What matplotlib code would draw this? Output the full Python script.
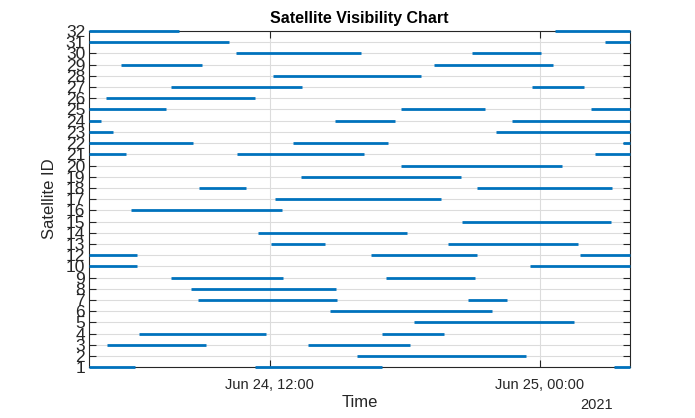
import numpy as np
import pandas as pd
import matplotlib
matplotlib.use('Agg')
import matplotlib.pyplot as plt
import matplotlib.dates as mdates

# satellites shown on the y axis (no 11 in the data), bottom to top
sat_ids = [1, 2, 3, 4, 5, 6, 7, 8, 9, 10, 12, 13, 14, 15, 16, 17, 18, 19, 20,
           21, 22, 23, 24, 25, 26, 27, 28, 29, 30, 31, 32]

# visibility passes: satellite, start/end in hours after 2021-06-24 00:00
pass_sat = [32, 32, 31, 31, 30, 30, 29, 29, 28, 27, 27, 26, 25, 25, 25,
            24, 24, 24, 23, 23, 22, 22, 22, 21, 21, 21, 20, 19, 18, 18,
            17, 16, 15, 14, 13, 13, 12, 12, 12, 10, 10, 9, 9, 8, 7, 7,
            6, 5, 4, 4, 3, 3, 2, 1, 1, 1]
pass_start = [4.0, 24.65, 4.0, 26.9, 10.52, 21.0, 5.41, 19.32, 12.16, 7.64, 23.67, 4.74, 4.0, 17.85, 26.25,
              4.0, 14.92, 22.78, 4.0, 22.03, 4.0, 13.05, 27.7, 4.0, 10.56, 26.43, 17.85, 13.41, 8.88, 21.23,
              12.25, 5.85, 20.56, 11.5, 12.08, 19.9, 4.0, 16.52, 25.77, 4.0, 23.54, 7.64, 17.19, 8.52, 8.83, 20.83,
              14.69, 18.39, 6.21, 17.0, 4.79, 13.72, 15.9, 4.0, 11.36, 27.27]
pass_end = [8.0, 28.0, 10.21, 28.0, 16.08, 24.03, 9.01, 24.56, 18.74, 13.45, 25.94, 11.36, 7.41, 21.58, 28.0,
            4.52, 17.58, 28.0, 5.04, 28.0, 8.61, 17.27, 28.0, 5.63, 16.21, 28.0, 25.0, 20.52, 10.97, 27.18,
            19.63, 12.56, 27.14, 18.12, 14.48, 25.68, 6.12, 21.19, 28.0, 6.12, 28.0, 12.61, 21.1, 14.97, 15.01, 22.52,
            21.89, 25.5, 11.85, 19.76, 9.19, 18.25, 23.37, 6.03, 17.0, 28.0]

base = pd.Timestamp('2021-06-24 00:00')
t0 = base + pd.Timedelta(hours=4)
t1 = base + pd.Timedelta(hours=28)

plt.rcParams['font.family'] = ['Liberation Sans', 'DejaVu Sans']
dark = '#262626'

fig = plt.figure(figsize=(6.95, 4.18), dpi=100)
ax = fig.add_axes([0.1285, 0.1213, 0.7780, 0.8045])

row_of = {s: i for i, s in enumerate(sat_ids)}
for s, a, b in zip(pass_sat, pass_start, pass_end):
    y = row_of[s]
    xa = mdates.date2num(base + pd.Timedelta(hours=a))
    xb = mdates.date2num(base + pd.Timedelta(hours=b))
    ax.plot([xa, xb], [y, y], color='#0072BD', linewidth=2.0,
            solid_capstyle='butt', clip_on=False, zorder=3)

ax.set_xlim(mdates.date2num(t0), mdates.date2num(t1))
ax.set_ylim(0, len(sat_ids) - 1)

xt = [base + pd.Timedelta(hours=12), base + pd.Timedelta(hours=24)]
ax.set_xticks([mdates.date2num(t) for t in xt])
ax.set_xticklabels(['Jun 24, 12:00', 'Jun 25, 00:00'], fontsize=10.5, color=dark)
ax.set_yticks(range(len(sat_ids)))
ax.set_yticklabels([str(s) for s in sat_ids], fontsize=12.5, color=dark)

ax.tick_params(direction='in', top=True, right=True, length=5, width=0.8, colors=dark)
ax.tick_params(axis='x', pad=8)
ax.tick_params(axis='y', pad=3)
for sp in ax.spines.values():
    sp.set_color(dark)
    sp.set_linewidth(0.8)

ax.grid(True, color='#dcdcdc', linewidth=0.8, zorder=0)
ax.set_axisbelow(True)

ax.set_title('Satellite Visibility Chart', fontsize=11.5, fontweight='bold', color='black', pad=6)
ax.set_xlabel('Time', fontsize=12, color=dark, labelpad=2)
ax.set_ylabel('Satellite ID', fontsize=12, color=dark, labelpad=6)
fig.text(613 / 695, 1 - 405 / 418, '2021', fontsize=10.5, color=dark, ha='right', va='center')

plt.savefig('out.png', dpi=100)
